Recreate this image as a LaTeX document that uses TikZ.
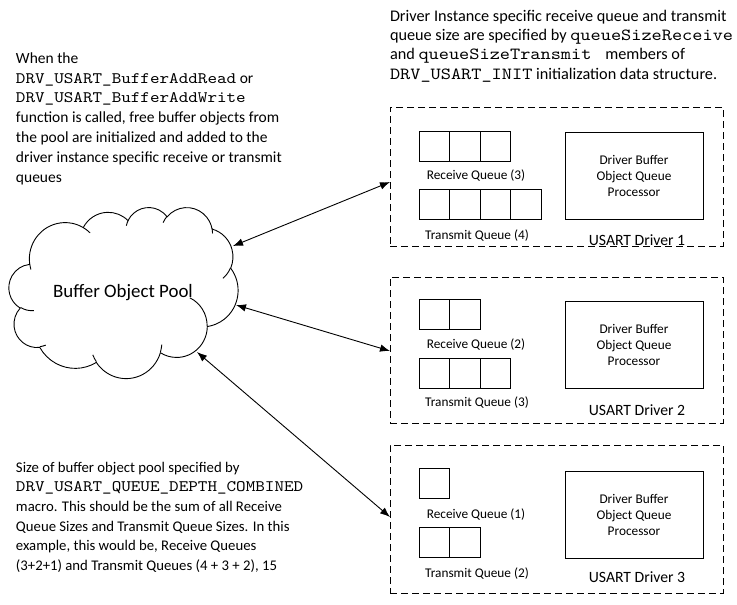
\documentclass[tikz,border=0pt]{standalone}
\usepackage{fontspec}
\setmainfont{Carlito}
\newfontfamily\mono{lmmono10-regular.otf}[FakeStretch=1.14]
\usetikzlibrary{arrows.meta}
\newcommand\code[2][16]{{\mono\fontsize{#1}{19.6}\selectfont #2}}
\newcommand\qrow[4]{\foreach \i in {1,...,#4}{\node[cell] (#1-\i) at ({#2+(\i-1)*30.5},#3) {};}}
\begin{document}
\begin{tikzpicture}[x=1pt,y=-1pt,line width=0.9pt,
  para/.style={inner sep=0pt, outer sep=0pt, align=left, anchor=north west},
  dbox/.style={draw, dash pattern=on 7pt off 4pt, anchor=north west, inner sep=0pt, outer sep=0pt, minimum width=333pt},
  cell/.style={draw, anchor=north west, inner sep=0pt, outer sep=0pt, minimum width=30.5pt, minimum height=30pt},
  proc/.style={draw, anchor=north west, inner sep=0pt, outer sep=0pt, minimum width=138pt, minimum height=87pt, align=center, font=\fontsize{13.3}{16}\selectfont},
  lbl/.style={inner sep=0pt, font=\fontsize{13.3}{16}\selectfont},
  ulbl/.style={inner sep=0pt, font=\fontsize{15.7}{18}\selectfont},
  conn/.style={{Latex[length=10pt,width=7.5pt]}-{Latex[length=10pt,width=7.5pt]}}]
\fill[white] (0,0) rectangle (737,605);
\useasboundingbox (0,0) rectangle (737,605);

% texts
\node[para, font=\fontsize{15.5}{19.8}\selectfont] (t1) at (16,52.5) {When the\\
\code{DRV\_USART\_BufferAddRead} or\\
\code{DRV\_USART\_BufferAddWrite}\\
function is called, free buffer objects from\\
the pool are initialized and added to the\\
driver instance specific receive or transmit\\
queues};

\node[para, font=\fontsize{16.25}{19.3}\selectfont] (t2) at (390,10) {Driver Instance specific receive queue and transmit\\
queue size are specified by \code[17]{queueSizeReceive}\\
and \code[17]{queueSizeTransmit\ } members of\\
\code[17]{DRV\_USART\_INIT} initialization data structure.};

\node[para, font=\fontsize{14.75}{19.6}\selectfont] (t3) at (16,462) {Size of buffer object pool specified by\\
\code{DRV\_USART\_QUEUE\_DEPTH\_COMBINED}\\
macro. This should be the sum of all Receive\\
Queue Sizes and Transmit Queue Sizes. In this\\
example, this would be, Receive Queues\\
(3+2+1) and Transmit Queues (4 + 3 + 2), 15};

% driver boxes
\node[dbox, minimum height=139pt] (d1) at (390,107) {};
\node[dbox, minimum height=146pt] (d2) at (390,277) {};
\node[dbox, minimum height=148pt] (d3) at (390,445) {};

\qrow{rq1}{419}{131}{3}
\qrow{tq1}{419}{189}{4}
\qrow{rq2}{419}{299}{2}
\qrow{tq2}{419}{358}{3}
\qrow{rq3}{419}{468}{1}
\qrow{tq3}{419}{527}{2}

\node[lbl] (rl1) at (476,176) {Receive Queue (3)};
\node[lbl] (tl1) at (477,236) {Transmit Queue (4)};
\node[lbl] (rl2) at (476,345) {Receive Queue (2)};
\node[lbl] (tl2) at (477,403) {Transmit Queue (3)};
\node[lbl] (rl3) at (476,515) {Receive Queue (1)};
\node[lbl] (tl3) at (477,574) {Transmit Queue (2)};

\node[proc] (p1) at (565,132) {Driver Buffer\\Object Queue\\Processor};
\node[proc] (p2) at (565,301) {Driver Buffer\\Object Queue\\Processor};
\node[proc] (p3) at (565,471) {Driver Buffer\\Object Queue\\Processor};

\node[ulbl] (u1) at (637,240) {USART Driver 1};
\node[ulbl] (u2) at (637,410) {USART Driver 2};
\node[ulbl] (u3) at (637,577) {USART Driver 3};

% cloud
\begin{scope}[shift={(9,207)}, x=0.530093pt, y=-0.395833pt]
\gdef\cloudpath{}
\foreach \wr/\hr/\st/\sw in {67.53/91.90/-190.48748/123.78053,
  53.33/72.67/-144.10238/89.94523,
  43.65/59.45/-145.80792/99.72302,
  48.57/65.95/-130.98607/117.24173,
  53.33/72.73/-78.70888/109.02692,
  67.75/92.20/-46.26725/130.269,
  57.85/78.67/0.62502/114.03333,
  67.52/92.15/22.4516/115.17255,
  77.20/105.43/66.24263/75.71102,
  43.60/59.18/-274.94208/146.73557,
  43.45/59.45/-246.8285/152.51885}{%
  \pgfmathsetmacro\ta{atan2(\wr*sin(\st),\hr*cos(\st))}%
  \pgfmathsetmacro\tb{atan2(\wr*sin(\st+\sw),\hr*cos(\st+\sw))}%
  \pgfmathsetmacro\dd{\tb-\ta}%
  \pgfmathsetmacro\dd{ifthenelse(\dd<0,\dd+360,\dd)}%
  \xdef\cloudpath{\cloudpath arc[start angle=\ta, delta angle=\dd, x radius=\wr, y radius=\hr]}%
}
\draw[fill=white] (39.00,143.70) \cloudpath -- cycle;
\foreach \px/\py/\wr/\hr/\st/\sw in {46.93/261.77/43.45/59.45/86.742/26.4295,
  69.28/348.99/43.60/59.18/73.61047/11.44747,
  164.78/390.90/67.52/92.15/137.62415/14.0811,
  288.27/347.51/67.52/92.15/6.45327/15.99835,
  341.29/229.54/57.85/78.67/-70.29235/70.91737,
  417.98/153.54/53.33/72.73/30.31803/27.7515,
  383.24/54.26/48.57/65.95/-13.74433/14.8589,
  290.78/39.52/48.57/65.95/-149.18145/18.19537,
  221.41/47.20/43.65/59.45/-163.49427/17.68635,
  140.00/51.92/67.53/91.90/-66.70695/12.31935,
  41.27/157.89/67.53/91.90/157.65435/11.85817}{%
  \pgfmathsetmacro\ta{atan2(\wr*sin(\st),\hr*cos(\st))}%
  \pgfmathsetmacro\tb{atan2(\wr*sin(\st+\sw),\hr*cos(\st+\sw))}%
  \pgfmathsetmacro\dd{\tb-\ta}%
  \pgfmathsetmacro\dd{ifthenelse(\dd<0,\dd+360,\dd)}%
  \draw (\px,\py) arc[start angle=\ta, delta angle=\dd, x radius=\wr, y radius=\hr];
}
\end{scope}
\node[inner sep=0pt, font=\fontsize{18.9}{22}\selectfont] (pool) at (123,293) {Buffer Object Pool};

% connectors
\coordinate (c1) at (233,246);
\coordinate (c2) at (236,305);
\coordinate (c3) at (197,352);
\coordinate (b1) at ([yshift=-5.5pt]d1.west);
\coordinate (b2) at ([yshift=-1pt]d2.west);
\coordinate (b3) at ([yshift=2pt]d3.west);
\draw[conn] (c1) -- (b1);
\draw[conn] (c2) -- (b2);
\draw[conn] (c3) -- (b3);
\end{tikzpicture}
\end{document}
